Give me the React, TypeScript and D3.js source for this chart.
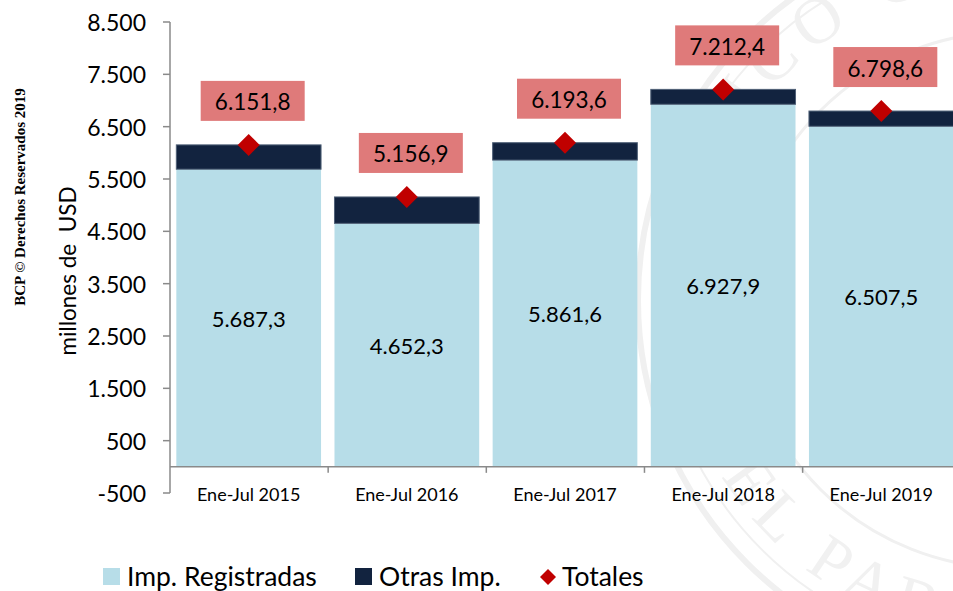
import React from "react";
import * as d3 from "d3";

const categories = ["Ene-Jul 2015", "Ene-Jul 2016", "Ene-Jul 2017", "Ene-Jul 2018", "Ene-Jul 2019"];
const registradas = [5687.3, 4652.3, 5861.6, 6927.9, 6507.5];
const totales = [6151.8, 5156.9, 6193.6, 7212.4, 6798.6];
const yTicks = [-500, 500, 1500, 2500, 3500, 4500, 5500, 6500, 7500, 8500];

const W = 953;
const H = 591;
const FONT = "Lato, 'Open Sans', sans-serif";

const locale = d3.formatLocale({ decimal: ",", thousands: ".", grouping: [3], currency: ["", ""], minus: "-" });
const fmt = (v: number, dec: number) => locale.format(dec ? ",.1f" : ",.0f")(v);

export default function App() {
  const x = d3.scaleBand<string>().domain(categories).range([170, 960]).paddingInner(0.085).paddingOuter(0.04);
  const y = d3.scaleLinear().domain([-500, 8500]).range([493, 22]);
  const step = x.step();
  const x0 = 170;
  const bw = x.bandwidth();

  const diamond = (cx: number, cy: number, r: number) =>
    `M${cx},${cy - r}L${cx + r},${cy}L${cx},${cy + r}L${cx - r},${cy}Z`;

  // faint seal in the background
  const sx = 1010;
  const sy = 300;
  const rt = 318;
  const rb = 338;

  return (
    <svg width={W} height={H} style={{ position: "absolute", left: 0, top: 0 }}>
      <rect width={W} height={H} fill="#fff" />
      <g fill="none" stroke="#f0f0f0" strokeWidth={6}>
        <circle cx={sx} cy={sy} r={372} />
        <circle cx={sx} cy={sy} r={352} strokeWidth={2} />
        <circle cx={sx} cy={sy} r={268} strokeWidth={3} />
      </g>
      <defs>
        <path id="sealTop" d={`M${sx - rt},${sy} A${rt},${rt} 0 0,1 ${sx + rt},${sy}`} />
        <path id="sealBottom" d={`M${sx - rb},${sy} A${rb},${rb} 0 0,0 ${sx + rb},${sy}`} />
      </defs>
      <text fontFamily="'Liberation Serif', serif" fontSize={66} fill="#f1f1f1" letterSpacing={10}>
        <textPath href="#sealTop" startOffset="6%">BANCO CENTRAL</textPath>
      </text>
      <text fontFamily="'Liberation Serif', serif" fontSize={66} fill="#f1f1f1" letterSpacing={10}>
        <textPath href="#sealBottom" startOffset="12%">DEL PARAGUAY</textPath>
      </text>

      {/* bars */}
      {categories.map((c, i) => {
        const bx = x(c)!;
        const other = totales[i] - registradas[i];
        return (
          <g key={c}>
            <rect x={bx} y={y(registradas[i])} width={bw} height={y(0) - y(registradas[i])} fill="#b7dde8" />
            <rect
              x={bx}
              y={y(registradas[i] + other)}
              width={bw}
              height={y(registradas[i]) - y(registradas[i] + other)}
              fill="#12233f"
              stroke="#4f6077"
              strokeWidth={1}
            />
            <text
              x={bx + bw / 2}
              y={y(registradas[i] / 2)}
              textAnchor="middle"
              dominantBaseline="central"
              fontFamily={FONT}
              fontSize={22}
              fill="#000"
            >
              {fmt(registradas[i], 1)}
            </text>
          </g>
        );
      })}

      {/* axes */}
      <g stroke="#8a8a8a" strokeWidth={1.5}>
        <line x1={170} x2={170} y1={y(8500)} y2={y(-500)} />
        <line x1={170} x2={W} y1={y(0)} y2={y(0)} />
        {yTicks.map((t) => (
          <line key={t} x1={163} x2={170} y1={y(t)} y2={y(t)} />
        ))}
        {categories.slice(0, -1).map((c, i) => (
          <line key={c} x1={x0 + step * (i + 1)} x2={x0 + step * (i + 1)} y1={y(0)} y2={y(0) + 6} />
        ))}
      </g>
      {yTicks.map((t) => (
        <text key={t} x={146} y={y(t)} textAnchor="end" dominantBaseline="central" fontFamily={FONT} fontSize={23} fill="#000">
          {fmt(t, 0)}
        </text>
      ))}
      {categories.map((c) => (
        <text key={c} x={x(c)! + bw / 2} y={494} textAnchor="middle" dominantBaseline="central" fontFamily={FONT} fontSize={18} fill="#000">
          {c}
        </text>
      ))}

      {/* totals */}
      {categories.map((c, i) => {
        const cx = x(c)! + bw / 2;
        const cy = y(totales[i]);
        return (
          <g key={c}>
            <rect x={cx - 48} y={cy - 64} width={104} height={40} fill="#df7a7a" />
            <text x={cx + 4} y={cy - 43} textAnchor="middle" dominantBaseline="central" fontFamily={FONT} fontSize={22.5} fill="#000">
              {fmt(totales[i], 1)}
            </text>
            <path d={diamond(cx, cy, 11)} fill="#c00000" />
          </g>
        );
      })}

      {/* titles */}
      <text
        transform="translate(67,271) rotate(-90)"
        textAnchor="middle"
        dominantBaseline="central"
        fontFamily={FONT}
        fontSize={22.5}
        fill="#000"
        xmlSpace="preserve"
      >
        millones de  USD
      </text>
      <text
        transform="translate(20,197) rotate(-90)"
        textAnchor="middle"
        dominantBaseline="central"
        fontFamily="'Liberation Serif', serif"
        fontWeight="bold"
        fontSize={15}
        fill="#000"
      >
        BCP © Derechos Reservados 2019
      </text>

      {/* legend */}
      <g fontFamily={FONT} fontSize={26.5} fill="#000">
        <rect x={103} y={568} width={17} height={17} fill="#b7dde8" />
        <text x={127} y={576} dominantBaseline="central">Imp. Registradas</text>
        <rect x={355} y={568} width={17} height={17} fill="#12233f" />
        <text x={379} y={576} dominantBaseline="central">Otras Imp.</text>
        <path d={diamond(548, 577, 8)} fill="#c00000" />
        <text x={562} y={576} dominantBaseline="central">Totales</text>
      </g>
    </svg>
  );
}
